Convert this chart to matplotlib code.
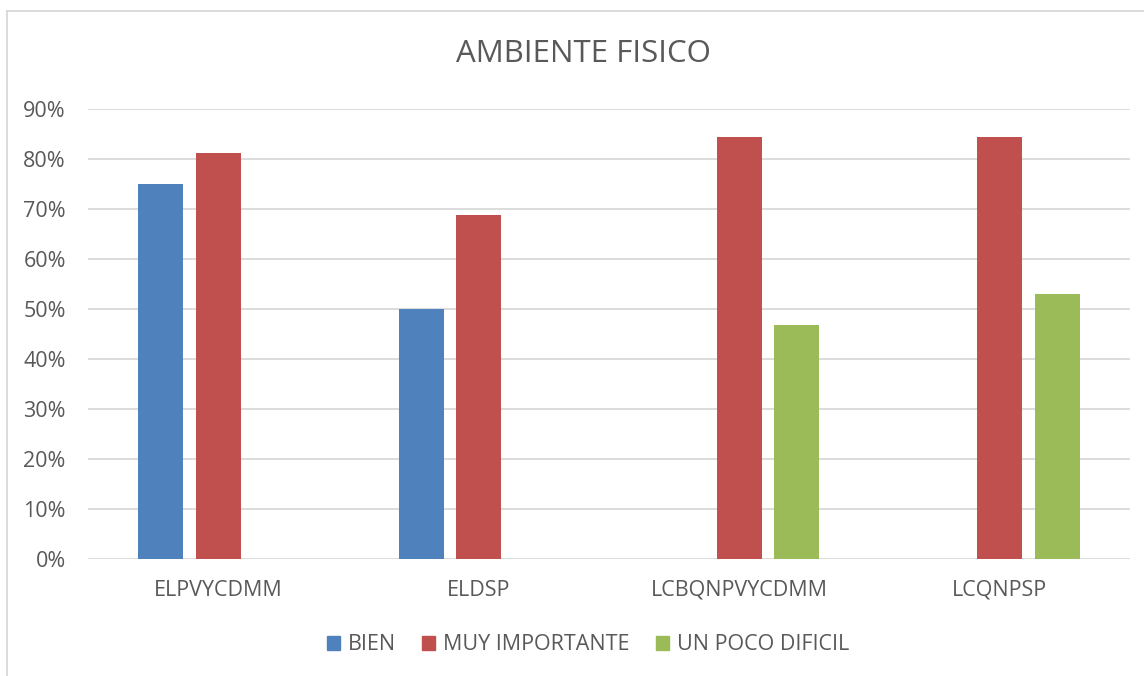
import matplotlib
matplotlib.use("Agg")
import matplotlib.pyplot as plt
from matplotlib.lines import Line2D
from matplotlib.ticker import FuncFormatter
import numpy as np

categories = ["ELPVYCDMM", "ELDSP", "LCBQNPVYCDMM", "LCQNPSP"]
series_names = ["BIEN", "MUY IMPORTANTE", "UN POCO DIFICIL"]
bien = [0.75, 0.50, np.nan, np.nan]
muy_importante = [0.8125, 0.6875, 0.844, 0.844]
un_poco_dificil = [np.nan, np.nan, 0.469, 0.531]
yticks = [0, 0.1, 0.2, 0.3, 0.4, 0.5, 0.6, 0.7, 0.8, 0.9]
title = "AMBIENTE FISICO"

colors = ["#4F81BD", "#C0504D", "#9BBB59"]
text_color = "#595959"
grid_color = "#D9D9D9"
font = ["Open Sans", "DejaVu Sans"]
plt.rcParams['font.family'] = font

W, H = 1144, 676
fig = plt.figure(figsize=(W / 100, H / 100), dpi=100)
# axes placement in pixels: left 88, right 1130, top 109 (90%), bottom 559 (0%)
left, right, top, bottom = 88, 1130, 109, 559
ax = fig.add_axes([left / W, 1 - bottom / H, (right - left) / W, (bottom - top) / H])

x = np.arange(len(categories))
bw = 0.174
step = 0.221
for i, (vals, c, name) in enumerate(zip([bien, muy_importante, un_poco_dificil], colors, series_names)):
    ax.bar(x + (i - 1) * step, vals, width=bw, color=c, label=name, zorder=3)

ax.set_xlim(-0.5, len(categories) - 0.5)
ax.set_ylim(0, 0.9)
ax.set_yticks(yticks)
ax.yaxis.set_major_formatter(FuncFormatter(lambda v, p: f"{v*100:.0f}%"))
ax.set_xticks(x)
ax.set_xticklabels(categories)
ax.tick_params(axis="both", length=0, labelsize=15.5, colors=text_color)
ax.tick_params(axis="x", pad=15)
ax.tick_params(axis="y", pad=16)
for s in ax.spines.values():
    s.set_visible(False)
ax.grid(axis="y", color=grid_color, linewidth=1.3, zorder=0)
ax.set_axisbelow(True)

fig.text(583 / W, 1 - 54 / H, title, ha="center", va="center", fontsize=22.5, color=text_color)

handles = [plt.Rectangle((0, 0), 1, 1, color=c) for c in colors]
fig.legend(handles, series_names, loc="center", bbox_to_anchor=(588 / W, 1 - 645 / H),
           ncol=3, frameon=False, fontsize=15.5, labelcolor=text_color,
           handlelength=0.6, handleheight=0.6, handletextpad=0.35, columnspacing=1.25)

# chart border (top and left visible)
fig.add_artist(Line2D([7 / W, 7 / W], [0, 1 - 10.5 / H], transform=fig.transFigure, color=grid_color, linewidth=1.3))
fig.add_artist(Line2D([7 / W, 1], [1 - 10.5 / H, 1 - 10.5 / H], transform=fig.transFigure, color=grid_color, linewidth=1.3))

fig.savefig("out.png", dpi=100)
